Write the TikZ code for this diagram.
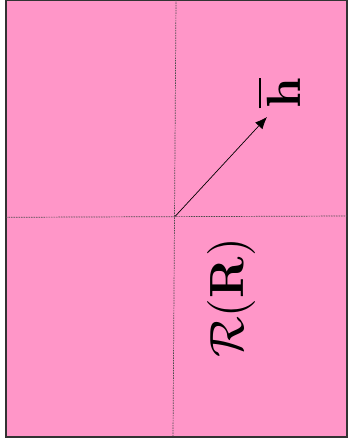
\documentclass[tikz,border=0pt]{standalone}
\usetikzlibrary{arrows.meta}
\definecolor{bgpink}{RGB}{255,150,200}
\tikzset{
  axis/.style={draw=black!70, line width=0.7pt, dash pattern=on 1.5pt off 1pt},
  vec/.style={draw=black, line width=0.7pt, -{Latex[length=12pt,width=10pt]}},
  biglabel/.style={scale=4.8, rotate=90, inner sep=0pt}
}
\begin{document}
\begin{tikzpicture}[x=1pt,y=1pt]
  \useasboundingbox (0,0) rectangle (348,445);
  \fill[white] (0,0) rectangle (348,445);
  \draw[fill=bgpink, draw=black!80, line width=1.5pt] (6,8) rectangle (347,445);
  \coordinate (top) at (176,445);
  \coordinate (bot) at (173,8);
  \coordinate (lft) at (6,227.7);
  \coordinate (rgt) at (347,229);
  \coordinate (o) at (175,228.5);
  \coordinate (tip) at (267,328);
  \draw[axis] (top) -- (bot);
  \draw[axis] (lft) -- (rgt);
  \draw[vec] (o) -- (tip);
  \node[biglabel] (h) at (279,352) {$\overline{\mathbf{h}}$};
  \node[biglabel] (R) at (232,147) {$\mathcal{R}(\mathbf{R})$};
\end{tikzpicture}
\end{document}
